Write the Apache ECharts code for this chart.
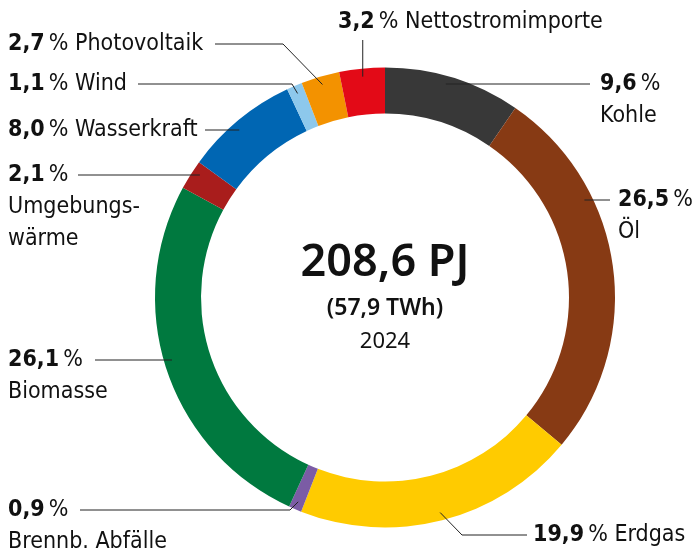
<!DOCTYPE html>
<html>
<head>
<meta charset="utf-8">
<script src="https://cdn.jsdelivr.net/npm/echarts@6/dist/echarts.min.js"></script>
<style>
html,body{margin:0;padding:0;background:#fff;}
#chart{width:695px;height:549px;}
</style>
</head>
<body>
<div id="chart"></div>
<script>
// ---- data ----
const categories = ['Kohle','Öl','Erdgas','Brennb. Abfälle','Biomasse','Umgebungswärme','Wasserkraft','Wind','Photovoltaik','Nettostromimporte'];
const shares = [9.6, 26.5, 19.9, 0.9, 26.1, 2.1, 8.0, 1.1, 2.7, 3.2];
const labelLines = [['Kohle'],['Öl'],['Erdgas'],['Brennb. Abfälle'],['Biomasse'],['Umgebungs-','wärme'],['Wasserkraft'],['Wind'],['Photovoltaik'],['Nettostromimporte']];
const totalText = '208,6 PJ';
const twhText = '(57,9 TWh)';
const yearText = '2024';

// ---- styling ----
const colors = ['#383838','#873A14','#FFCB00','#7B5CA5','#00793F','#A91D1C','#0066B3','#8DC8EC','#F39200','#E30A17'];
const CX = 385, CY = 297.5, R_IN = 184, R_OUT = 230, R_LINE = 222;
const FONT = 'DejaVu Sans Condensed';
const FS = 23;
const LH = 32;
const layoutCfg = [
  {inline:false, x:600, y:84,  mode:'h', side:1,  endX:590},
  {inline:false, x:618, y:200, mode:'h', side:1,  endX:610},
  {inline:true,  x:533, y:535, mode:'e', elbow:[462,535], endX:527},
  {inline:false, x:8,   y:510, mode:'e', elbow:[290,510], endX:80},
  {inline:false, x:8,   y:360, mode:'h', side:-1, endX:95},
  {inline:false, x:8,   y:175, mode:'h', side:-1, endX:78},
  {inline:true,  x:8,   y:130, mode:'h', side:-1, endX:205},
  {inline:true,  x:8,   y:84,  mode:'e', elbow:[292,84], endX:138},
  {inline:true,  x:8,   y:44,  mode:'e', elbow:[283,44], endX:215},
  {inline:true,  x:338, y:22,  mode:'v', endY:40}
];

const total = shares.reduce((a,b)=>a+b,0);
const cum = []; let acc = 0;
shares.forEach(v=>{cum.push(acc + v/2); acc += v;});
function midPoint(i, r){
  const a = cum[i]/total*2*Math.PI;
  return [CX + r*Math.sin(a), CY - r*Math.cos(a)];
}
function fmt(v){ return v.toFixed(1).replace('.', ','); }

const pieData = categories.map((c,i)=>({name:c, value:shares[i]}));
const chart = echarts.init(document.getElementById('chart'));
chart.setOption({
  animation:false,
  color: colors,
  graphic: [
    {type:'text', z:10, style:{text:totalText, x:CX, y:263, textAlign:'center', textVerticalAlign:'middle', font:'600 45px "Noto Sans"', fill:'#111'}},
    {type:'text', z:10, style:{text:twhText, x:CX, y:308, textAlign:'center', textVerticalAlign:'middle', font:'600 23px "Noto Sans"', fill:'#111'}},
    {type:'text', z:10, style:{text:yearText, x:CX, y:342, textAlign:'center', textVerticalAlign:'middle', font:'22px "Noto Sans"', fill:'#111'}}
  ],
  series: [{
    type:'pie',
    z:2,
    center:[CX, CY],
    radius:[R_IN, R_OUT],
    startAngle:90,
    clockwise:true,
    silent:true,
    itemStyle:{borderWidth:0},
    label:{show:false},
    labelLine:{show:false},
    data: pieData
  },{
    type:'pie',
    z:3,
    center:[CX, CY],
    radius:[R_IN, R_OUT],
    startAngle:90,
    clockwise:true,
    silent:true,
    avoidLabelOverlap:false,
    itemStyle:{color:'rgba(0,0,0,0)', borderWidth:0},
    data: pieData,
    label:{
      show:true,
      position:'outside',
      color:'#111',
      fontFamily:FONT,
      lineHeight:LH,
      formatter:function(p){
        const cfg = layoutCfg[p.dataIndex];
        const pct = '{b|' + fmt(p.value) + '}{p|\u2009%}';
        const names = labelLines[p.dataIndex];
        if (cfg.inline) return pct + '{n| ' + names.join(' ') + '}';
        return pct + '\n' + names.map(s=>'{n|' + s + '}').join('\n');
      },
      rich:{
        b:{fontFamily:FONT, fontWeight:'bold', fontSize:FS, color:'#111', lineHeight:LH},
        p:{fontFamily:FONT, fontSize:FS, color:'#111', lineHeight:LH},
        n:{fontFamily:FONT, fontSize:FS, color:'#111', lineHeight:LH}
      }
    },
    labelLine:{show:true, lineStyle:{color:'#222', width:1}},
    labelLayout:function(params){
      const i = params.dataIndex;
      const cfg = layoutCfg[i];
      let pts;
      if (cfg.mode === 'h') {
        const dy = cfg.y - CY;
        const sx = CX + cfg.side*Math.sqrt(R_LINE*R_LINE - dy*dy);
        pts = [[sx, cfg.y], [cfg.endX, cfg.y], [cfg.endX, cfg.y]];
      } else if (cfg.mode === 'e') {
        const s = midPoint(i, R_LINE);
        pts = [s, cfg.elbow, [cfg.endX, cfg.elbow[1]]];
      } else {
        const s = midPoint(i, R_LINE);
        pts = [s, [s[0], cfg.endY], [s[0], cfg.endY]];
      }
      return {x:cfg.x, y:cfg.y - LH/2, align:'left', verticalAlign:'top', labelLinePoints:pts};
    }
  }]
});
</script>
</body>
</html>
